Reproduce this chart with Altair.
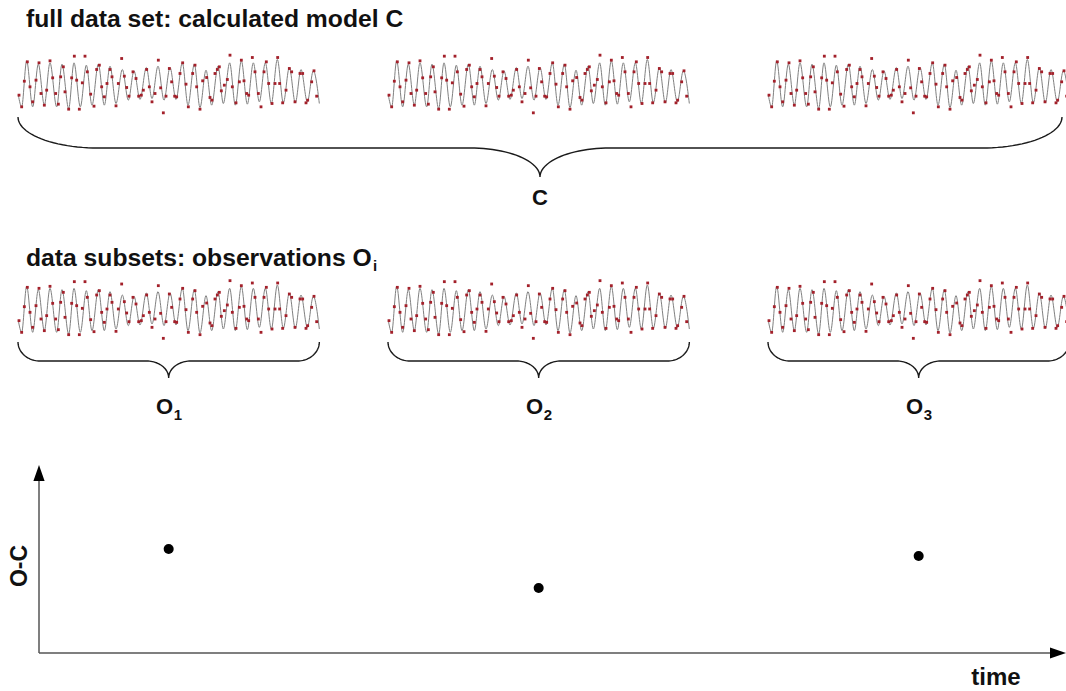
import math
import altair as alt
import pandas as pd

W, H = 1066, 691

# ---- calculated pulsation model: successive turning points (time units, relative flux) ----
model_time = [1, 11, 26, 44, 61, 79, 96, 116, 132, 152, 168, 187, 205, 222, 241, 259, 276, 294,
              313, 331, 348, 366, 385, 402, 420, 438, 456, 474, 493, 510, 529, 546, 564, 581,
              600, 616, 635, 652, 670, 688, 706, 724, 742, 760, 778, 796, 814, 832, 849, 868,
              886, 904]
model_flux = [-35, -70, 68, -70, 58, -65, 62, -70, 58, -75, 62, -70, 55, -65, 58, -65, 52, -60,
              42, -50, 38, -48, 48, -45, 52, -50, 48, -48, 62, -65, 58, -72, 40, -65,
              52, -60, 62, -65, 68, -62, 62, -55, 62, -60, 72, -58, 48, -58, 42, -55,
              38, -60]

# ---- measured points (same units) ----
obs_time = [3, 11, 19, 28, 36, 44, 54, 63, 69, 79, 86, 96, 104, 113, 121, 128, 136, 141, 152, 161,
            169, 176, 184, 193, 201, 208, 218, 228, 236, 244, 251, 259, 267, 276, 282, 294, 301, 311,
            319, 326, 333, 345, 354, 362, 370, 376, 386, 394, 402, 411, 421, 428, 436, 444, 454, 461,
            470, 476, 486, 494, 504, 511, 524, 531, 536, 546, 554, 566, 576, 582, 591, 598, 604, 610,
            619, 628, 636, 643, 654, 664, 670, 678, 686, 692, 703, 711, 721, 729, 738, 745, 752, 762,
            771, 779, 785, 794, 804, 814, 821, 831, 846, 854, 864, 869, 881, 888, 896]
obs_flux = [-35, -70, 7, 65, -10, -55, 10, 62, -30, -65, -20, 68, 17, -30, -62, 20, 50, -25, -77, 17,
            82, 10, -77, 2, 82, 35, -32, -68, 42, 55, -10, -40, 0, 42, 20, -67, 0, 75,
            22, -12, -38, 35, 15, -38, -35, -20, 42, -10, -55, -30, 70, -13, -88, -38, 45, 5,
            -38, -40, 30, 62, -2, -70, 30, 55, -10, -77, 8, 18, -42, -50, 30, 42, 50, -22,
            -5, 12, 85, -10, -58, 5, 70, 8, -30, -35, 78, 35, -30, -70, 35, 65, 0, -60,
            0, 78, 0, -58, -20, 45, 35, -55, 30, 30, -58, -50, 5, 38, -38]

# ---- data subsets and their O-C residuals ----
subset_labels = ["1", "2", "3"]
oc_residual = [104, 65, 97]

# ---- layout ----
BLOCK_START = [18, 388, 768]          # left edge of each subset on the canvas
UNIT = 1 / 3                          # canvas px per time / flux unit
BLOCK_LEN = max(model_time) * UNIT
ROW_CENTER = [83.5, 309]              # vertical centre of the two light-curve rows
AXIS_X0, AXIS_Y0 = 39, 653            # origin of the O-C diagram
Y_TIP, X_TIP = 465, 1066
ARROW_LEN = 16

CURVE = "#808080"
DOT = "#a3202a"
INK = "#111111"
FONT = "Liberation Sans"
TITLE_SIZE = 24.7

xs = alt.Scale(domain=[0, W], nice=False, zero=False)
ys = alt.Scale(domain=[0, H], nice=False, zero=False, reverse=True)
X = alt.X("x:Q", scale=xs, axis=None)
Y = alt.Y("y:Q", scale=ys, axis=None)

# light curves, repeated for both rows and all three subsets
curve_rows, dot_rows = [], []
for r, yc in enumerate(ROW_CENTER):
    for b, x0 in enumerate(BLOCK_START):
        g = f"{r}-{b}"
        for t, f in zip(model_time, model_flux):
            curve_rows.append({"x": x0 + t * UNIT, "y": yc - f * UNIT, "g": g})
        for t, f in zip(obs_time, obs_flux):
            dot_rows.append({"x": x0 + t * UNIT, "y": yc - f * UNIT})

curves = alt.Chart(pd.DataFrame(curve_rows)).mark_line(
    interpolate="monotone", color=CURVE, strokeWidth=1
).encode(x=X, y=Y, detail="g:N")

dots = alt.Chart(pd.DataFrame(dot_rows)).mark_square(
    size=8, color=DOT, opacity=1
).encode(x=X, y=Y)


def brace_points(x0, x1, y_top, y_mid, y_tip, r_end, r_tip, n=24):
    """Outline of a horizontal curly brace opening upward, tip pointing down."""
    xc = (x0 + x1) / 2
    pts = []
    for i in range(n + 1):
        a = math.pi / 2 * i / n
        pts.append((x0 + r_end - r_end * math.cos(a), y_top + (y_mid - y_top) * math.sin(a)))
    for i in range(n + 1):
        a = math.pi / 2 * i / n
        pts.append((xc - r_tip + r_tip * math.sin(a), y_mid + (y_tip - y_mid) * (1 - math.cos(a))))
    for i in range(n, -1, -1):
        a = math.pi / 2 * i / n
        pts.append((xc + r_tip - r_tip * math.sin(a), y_mid + (y_tip - y_mid) * (1 - math.cos(a))))
    for i in range(n, -1, -1):
        a = math.pi / 2 * i / n
        pts.append((x1 - r_end + r_end * math.cos(a), y_top + (y_mid - y_top) * math.sin(a)))
    return pts


brace_rows = []
for k, (x, y) in enumerate(brace_points(BLOCK_START[0], 1062, 117, 148, 177, 80, 70)):
    brace_rows.append({"x": x, "y": y, "g": "all", "i": k})
for b, x0 in enumerate(BLOCK_START):
    for k, (x, y) in enumerate(brace_points(x0, x0 + BLOCK_LEN, 342, 361, 378, 22, 22)):
        brace_rows.append({"x": x, "y": y, "g": f"s{b}", "i": k})

braces = alt.Chart(pd.DataFrame(brace_rows)).mark_line(
    color="#1a1a1a", strokeWidth=1.4
).encode(x=X, y=Y, detail="g:N", order="i:Q")

# O-C diagram
centers = [x0 + BLOCK_LEN / 2 for x0 in BLOCK_START]
axes_df = pd.DataFrame([
    {"x": AXIS_X0, "y": AXIS_Y0, "g": "v", "i": 0},
    {"x": AXIS_X0, "y": Y_TIP + ARROW_LEN, "g": "v", "i": 1},
    {"x": AXIS_X0, "y": AXIS_Y0, "g": "h", "i": 0},
    {"x": X_TIP - ARROW_LEN, "y": AXIS_Y0, "g": "h", "i": 1},
])
axes_lines = alt.Chart(axes_df).mark_line(color="#555555", strokeWidth=1.5).encode(
    x=X, y=Y, detail="g:N", order="i:Q"
)
up_head = alt.Chart(pd.DataFrame([{"x": AXIS_X0, "y": Y_TIP + ARROW_LEN / 2}])).mark_point(
    shape="M0,-1L0.7,1L-0.7,1Z", size=ARROW_LEN ** 2, filled=True, color="black", opacity=1
).encode(x=X, y=Y)
right_head = alt.Chart(pd.DataFrame([{"x": X_TIP - ARROW_LEN / 2, "y": AXIS_Y0}])).mark_point(
    shape="M1,0L-1,-0.7L-1,0.7Z", size=ARROW_LEN ** 2, filled=True, color="black", opacity=1
).encode(x=X, y=Y)

oc_df = pd.DataFrame({"x": centers, "y": [AXIS_Y0 - v for v in oc_residual]})
oc_points = alt.Chart(oc_df).mark_circle(size=100, color="black", opacity=1).encode(x=X, y=Y)


# text
def text_layer(rows, size, align="left", baseline="alphabetic", angle=0):
    kw = dict(font=FONT, fontWeight="bold", fontSize=size, color=INK, align=align, baseline=baseline)
    if angle:
        kw["angle"] = angle
    return alt.Chart(pd.DataFrame(rows)).mark_text(**kw).encode(x=X, y=Y, text="t:N")


titles = text_layer([
    {"x": 26, "y": 27, "t": "full data set: calculated model C"},
    {"x": 26, "y": 266, "t": "data subsets: observations O"},
], TITLE_SIZE)
title_sub = text_layer([{"x": 373, "y": 271, "t": "i"}], 15)
c_label = text_layer([{"x": (BLOCK_START[0] + 1062) / 2, "y": 205, "t": "C"}], 22, align="center")
o_labels = text_layer([{"x": c - 4, "y": 414, "t": "O"} for c in centers], 22, align="center")
o_subs = text_layer([{"x": c + 5, "y": 420, "t": s} for c, s in zip(centers, subset_labels)], 15)
oc_label = text_layer([{"x": 20, "y": 566, "t": "O-C"}], 23, align="center", baseline="middle", angle=270)
time_label = text_layer([{"x": 996, "y": 685, "t": "time"}], 24, align="center")

chart = alt.layer(
    curves, dots, braces, axes_lines, up_head, right_head, oc_points,
    titles, title_sub, c_label, o_labels, o_subs, oc_label, time_label,
).properties(
    width=W, height=H, autosize="none", padding=0, background="white"
).configure_view(strokeWidth=0)

chart.save("out.html", embed_options={"renderer": "svg", "actions": False})
